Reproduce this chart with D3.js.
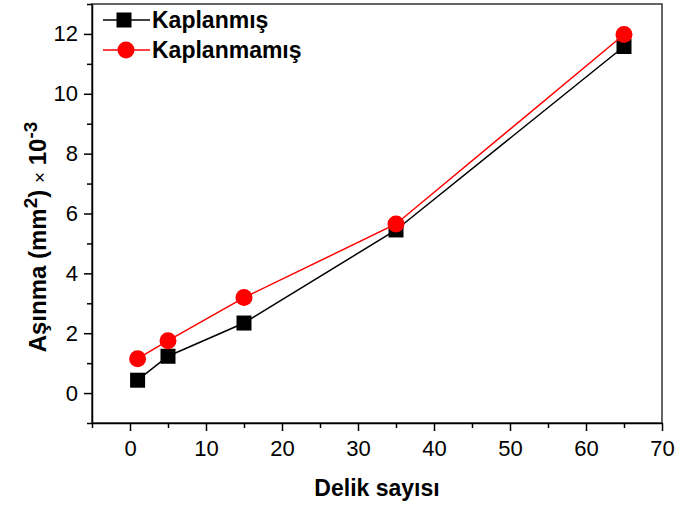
<!DOCTYPE html>
<meta charset="utf-8">
<script src="https://d3js.org/d3.v7.min.js"></script>
<style>
  body { margin: 0; background: #fff; }
  text { font-family: "Liberation Sans", Arial, sans-serif; }
</style>
<div id="chart"></div>
<script>

// data
var holes = [1, 5, 15, 35, 65];
var kaplanmis = [0.43, 1.23, 2.34, 5.45, 11.58];
var kaplanmamis = [1.15, 1.75, 3.19, 5.65, 11.98];
var seriesNames = ["Kaplanmış", "Kaplanmamış"];
var xTicks = [0, 10, 20, 30, 40, 50, 60, 70];
var xMinor = [-5, 5, 15, 25, 35, 45, 55, 65];
var yTicks = [0, 2, 4, 6, 8, 10, 12];
var yMinor = [-1, 1, 3, 5, 7, 9, 11, 13];

var W = 678, H = 506;
var pLeft = 92, pRight = 662, pTop = 4, pBottom = 423;

var svg = d3.select("#chart")
  .append("svg")
    .attr("width", W)
    .attr("height", H);

var x = d3.scaleLinear().domain([-5, 70]).range([pLeft, pRight]);
var y = d3.scaleLinear().domain([-1, 13]).range([pBottom, pTop]);

// frame
svg.append("rect")
    .attr("x", pLeft)
    .attr("y", pTop)
    .attr("width", pRight - pLeft)
    .attr("height", pBottom - pTop)
    .style("fill", "none")
    .style("stroke", "#333")
    .style("stroke-width", 1.5);

// minor ticks
svg.append("g")
    .attr("transform", "translate(0," + pBottom + ")")
    .call(d3.axisBottom(x).tickValues(xMinor).tickSize(5).tickFormat(""))
    .call(function(g) { g.select(".domain").remove(); })
    .selectAll("line").style("stroke-width", 1.5);

svg.append("g")
    .attr("transform", "translate(" + pLeft + ",0)")
    .call(d3.axisLeft(y).tickValues(yMinor).tickSize(5).tickFormat(""))
    .call(function(g) { g.select(".domain").remove(); })
    .selectAll("line").style("stroke-width", 1.5);

// major axes
var xAxis = svg.append("g")
    .attr("transform", "translate(0," + pBottom + ")")
    .call(d3.axisBottom(x).tickValues(xTicks).tickSize(8).tickSizeOuter(0).tickPadding(9));

var yAxis = svg.append("g")
    .attr("transform", "translate(" + pLeft + ",0)")
    .call(d3.axisLeft(y).tickValues(yTicks).tickSize(8).tickSizeOuter(0).tickPadding(6));

[xAxis, yAxis].forEach(function(a) {
  a.select(".domain").style("stroke", "#000").style("stroke-width", 1.5);
  a.selectAll("line").style("stroke-width", 1.5);
  a.selectAll("text")
    .style("font-family", "'Liberation Sans', Arial, sans-serif")
    .style("font-size", "22px")
    .style("fill", "#000");
});

// series
var colors = ["#000000", "#ff0000"];
var values = [kaplanmis, kaplanmamis];

var line = d3.line()
    .x(function(d) { return x(d[0]); })
    .y(function(d) { return y(d[1]); });

values.forEach(function(vals, i) {
  var pts = holes.map(function(h, j) { return [h, vals[j]]; });
  svg.append("path")
      .datum(pts)
      .attr("d", line)
      .style("fill", "none")
      .style("stroke", colors[i])
      .style("stroke-width", 1.5);

  if (i == 0) {
    svg.selectAll(".sq")
      .data(pts)
      .enter()
      .append("rect")
        .attr("class", "sq")
        .attr("x", function(d) { return x(d[0]) - 7.5; })
        .attr("y", function(d) { return y(d[1]) - 7.5; })
        .attr("width", 15)
        .attr("height", 15)
        .style("fill", colors[i]);
  } else {
    svg.selectAll(".dot")
      .data(pts)
      .enter()
      .append("circle")
        .attr("class", "dot")
        .attr("cx", function(d) { return x(d[0]); })
        .attr("cy", function(d) { return y(d[1]); })
        .attr("r", 8.5)
        .style("fill", colors[i]);
  }
});

// legend
var legend = svg.append("g");
seriesNames.forEach(function(name, i) {
  var ly = 20 + i * 30;
  legend.append("line")
      .attr("x1", 103).attr("x2", 150)
      .attr("y1", ly).attr("y2", ly)
      .style("stroke", colors[i])
      .style("stroke-width", 1.5);
  if (i == 0) {
    legend.append("rect")
        .attr("x", 124 - 7.5).attr("y", ly - 7.5)
        .attr("width", 15).attr("height", 15)
        .style("fill", colors[i]);
  } else {
    legend.append("circle")
        .attr("cx", 126).attr("cy", ly)
        .attr("r", 8.5)
        .style("fill", colors[i]);
  }
  legend.append("text")
      .attr("x", 152)
      .attr("y", ly + 7.5)
      .style("font-size", "23px")
      .style("font-weight", "bold")
      .text(name);
});

// axis titles
svg.append("text")
    .attr("x", (pLeft + pRight) / 2)
    .attr("y", 496)
    .attr("text-anchor", "middle")
    .style("font-size", "23px")
    .style("font-weight", "bold")
    .text("Delik sayısı");

var yt = svg.append("text")
    .attr("transform", "translate(46,237) rotate(-90)")
    .attr("text-anchor", "middle")
    .style("font-size", "24px")
    .style("font-weight", "bold");
yt.append("tspan").text("Aşınma (mm");
yt.append("tspan").attr("dy", -9).style("font-size", "19px").text("2");
yt.append("tspan").attr("dy", 9).text(") ");
yt.append("tspan").style("font-weight", "normal").style("font-size", "19px").text("×");
yt.append("tspan").text(" 10");
yt.append("tspan").attr("dy", -9).style("font-size", "19px").text("-3");

</script>
